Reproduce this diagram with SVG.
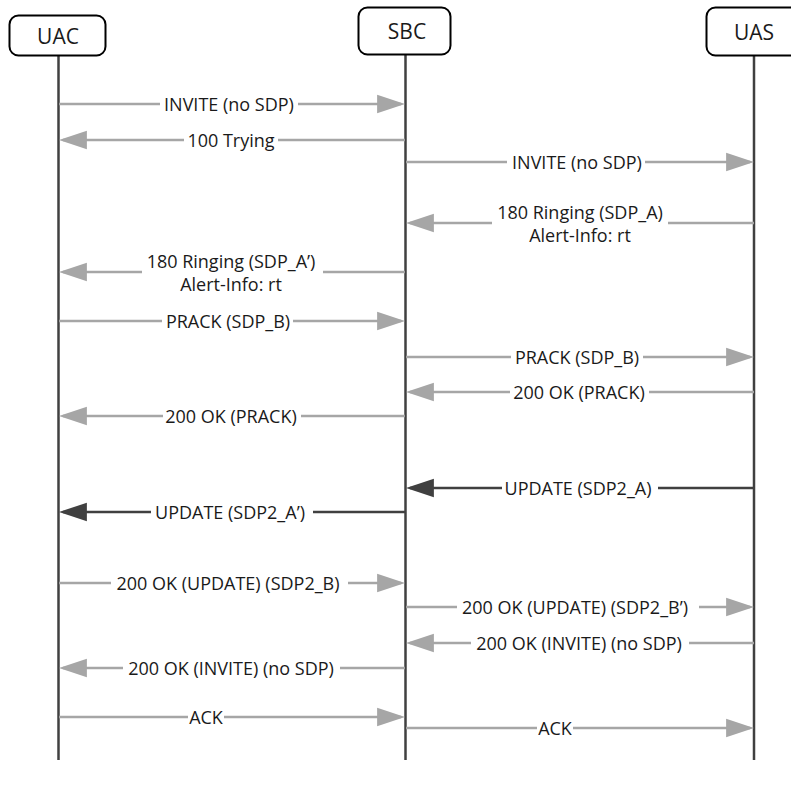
<svg xmlns="http://www.w3.org/2000/svg" width="791" height="787" viewBox="0 0 791 787">
<style>
.box{fill:#fff;stroke:#000;stroke-width:2}
.life{stroke:#404040;stroke-width:2.5;fill:none}
.hdr{font-family:"Open Sans","Noto Sans",sans-serif;font-size:21px;fill:#1a1a1a;text-anchor:middle}
.lbl{font-family:"Open Sans","Noto Sans",sans-serif;font-size:18px;fill:#1a1a1a;text-anchor:middle}
.msg{stroke:#a6a6a6;stroke-width:2.6;fill:none;marker-end:url(#ag)}
.msgd{stroke:#404040;stroke-width:2.6;fill:none;marker-end:url(#ad)}
</style>
<defs>
<marker id="ag" markerUnits="userSpaceOnUse" markerWidth="28" markerHeight="20" viewBox="0 0 27 18" refX="23" refY="9" orient="auto">
<path d="M0,0 L27,9 L0,18 z" fill="#a6a6a6"/>
</marker>
<marker id="ad" markerUnits="userSpaceOnUse" markerWidth="28" markerHeight="20" viewBox="0 0 27 18" refX="23" refY="9" orient="auto">
<path d="M0,0 L27,9 L0,18 z" fill="#404040"/>
</marker>
</defs>
<g id="uac">
<line class="life" x1="58.5" y1="55" x2="58.5" y2="760"/>
<rect class="box" x="9.5" y="15.5" width="96" height="40" rx="9"/>
<text class="hdr" x="58" y="44">UAC</text>
</g>
<g id="sbc">
<line class="life" x1="405.5" y1="54" x2="405.5" y2="760"/>
<rect class="box" x="358.5" y="7.5" width="92" height="47" rx="9"/>
<text class="hdr" x="407" y="39">SBC</text>
</g>
<g id="uas">
<line class="life" x1="754" y1="56" x2="754" y2="760"/>
<rect class="box" x="706.5" y="7.5" width="95" height="48" rx="9"/>
<text class="hdr" x="754" y="40">UAS</text>
</g>
<g id="connectors">
<path class="msg" d="M59,104 H160 M298,104 H401"/>
<path class="msg" d="M405,140 H278 M184,140 H63"/>
<path class="msg" d="M406,162 H507 M645,162 H750"/>
<path class="msg" d="M754,223 H668 M492,223 H410"/>
<path class="msg" d="M405,272 H323 M142,272 H63"/>
<path class="msg" d="M59,321 H162 M293,321 H401"/>
<path class="msg" d="M406,357 H511 M643,357 H750"/>
<path class="msg" d="M754,392 H649 M510,392 H410"/>
<path class="msg" d="M405,416 H301 M163,416 H63"/>
<path class="msgd" d="M754,488 H658 M502,488 H410"/>
<path class="msgd" d="M405,512 H313 M151,512 H63"/>
<path class="msg" d="M59,583 H111 M348,583 H401"/>
<path class="msg" d="M406,607 H457 M699,607 H750"/>
<path class="msg" d="M754,643 H689 M471,643 H410"/>
<path class="msg" d="M405,668 H340 M123,668 H63"/>
<path class="msg" d="M59,717 H188 M224,717 H401"/>
<path class="msg" d="M406,728 H537 M573,728 H750"/>
</g>
<g id="labels">
<text class="lbl" x="229" y="110.5">INVITE (no SDP)</text>
<text class="lbl" x="231" y="146.5">100 Trying</text>
<text class="lbl" x="577" y="168.5">INVITE (no SDP)</text>
<text class="lbl" x="580" y="219">180 Ringing (SDP_A)</text>
<text class="lbl" x="580" y="242">Alert-Info: rt</text>
<text class="lbl" x="231" y="268">180 Ringing (SDP_A’)</text>
<text class="lbl" x="231" y="291">Alert-Info: rt</text>
<text class="lbl" x="228" y="327.5">PRACK (SDP_B)</text>
<text class="lbl" x="577" y="363.5">PRACK (SDP_B)</text>
<text class="lbl" x="579" y="398.5">200 OK (PRACK)</text>
<text class="lbl" x="231" y="422.5">200 OK (PRACK)</text>
<text class="lbl" x="578" y="494.5">UPDATE (SDP2_A)</text>
<text class="lbl" x="230" y="518.5">UPDATE (SDP2_A’)</text>
<text class="lbl" x="228" y="589.5">200 OK (UPDATE) (SDP2_B)</text>
<text class="lbl" x="575" y="613.5">200 OK (UPDATE) (SDP2_B’)</text>
<text class="lbl" x="579" y="649.5">200 OK (INVITE) (no SDP)</text>
<text class="lbl" x="231" y="674.5">200 OK (INVITE) (no SDP)</text>
<text class="lbl" x="206" y="723.5">ACK</text>
<text class="lbl" x="555" y="734.5">ACK</text>
</g>
</svg>
